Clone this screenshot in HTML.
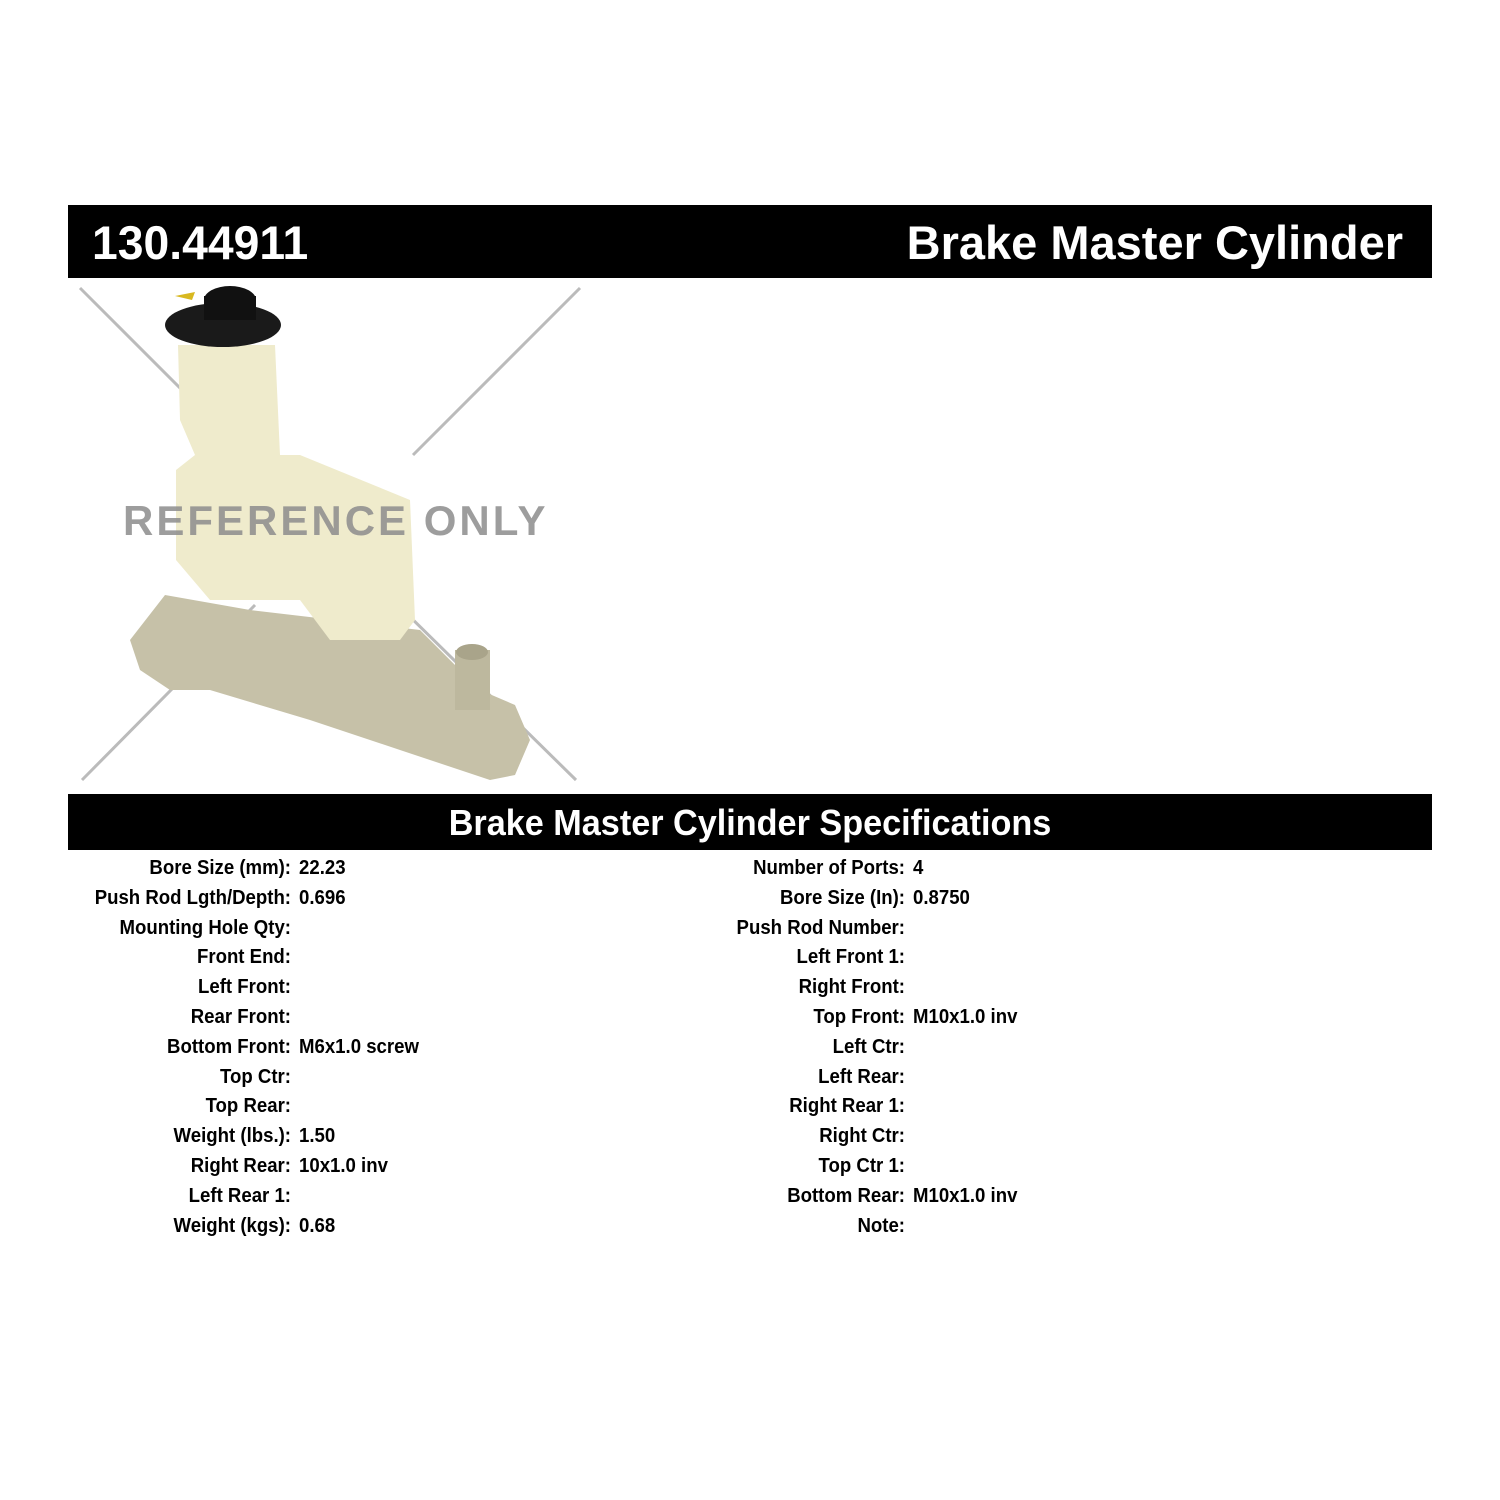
<!DOCTYPE html>
<html><head><meta charset="utf-8"><style>
body{margin:0;width:1500px;height:1500px;background:#fff;position:relative;overflow:hidden;font-family:"Liberation Sans",sans-serif;}
.bar{position:absolute;left:68px;width:1364px;background:#000;color:#fff;font-weight:bold;}
.row{position:absolute;font-size:20px;font-weight:bold;color:#000;white-space:nowrap;line-height:29.8px;}
.l{text-align:right;width:300px;transform:scaleX(0.93);transform-origin:right top;}
.v{transform:scaleX(0.93);transform-origin:left top;}
</style></head><body>
<div class="bar" style="top:205px;height:73px;">
<div style="position:absolute;left:24px;top:10px;font-size:47px;transform:scaleX(0.985);transform-origin:left top;">130.44911</div>
<div style="position:absolute;right:29px;top:10px;font-size:47px;">Brake Master Cylinder</div>
</div>
<svg style="position:absolute;left:0;top:0" width="1500" height="800">
<g stroke="#bbb" stroke-width="3">
<line x1="80" y1="288" x2="260" y2="468"/><line x1="580" y1="288" x2="413" y2="455"/>
<line x1="82" y1="780" x2="255" y2="605"/><line x1="576" y1="780" x2="398" y2="605"/>
</g>
<path d="M130 640 L165 595 L250 610 L420 630 L480 690 L515 705 L530 740 L515 775 L490 780 L400 750 L310 720 L210 690 L170 690 L140 670 Z" fill="#c6c1a8"/>
<rect x="455" y="650" width="35" height="60" fill="#bdb89e"/>
<ellipse cx="472" cy="652" rx="16" ry="8" fill="#a9a48a"/>
<path d="M178 345 L275 345 L280 455 L300 455 L410 500 L415 620 L400 640 L330 640 L300 600 L210 600 L176 560 L176 470 L195 455 L180 420 Z" fill="#efebcc"/>
<ellipse cx="223" cy="325" rx="58" ry="22" fill="#1a1a1a"/>
<ellipse cx="230" cy="300" rx="26" ry="14" fill="#111"/>
<rect x="204" y="296" width="52" height="24" fill="#111"/>
<path d="M175 296 L195 292 L192 300 Z" fill="#d8b820"/>
</svg>
<div style="position:absolute;left:123px;top:497px;font-weight:bold;font-size:42px;color:rgba(140,140,140,0.85);letter-spacing:3px;">REFERENCE ONLY</div>
<div class="bar" style="top:794px;height:56px;">
<div style="position:absolute;left:0;width:100%;text-align:center;top:8px;font-size:36px;transform:scaleX(0.95);">Brake Master Cylinder Specifications</div>
</div>
<div class="row l" style="left:-9px;top:854px;">Bore Size (mm):<br>Push Rod Lgth/Depth:<br>Mounting Hole Qty:<br>Front End:<br>Left Front:<br>Rear Front:<br>Bottom Front:<br>Top Ctr:<br>Top Rear:<br>Weight (lbs.):<br>Right Rear:<br>Left Rear 1:<br>Weight (kgs):</div>
<div class="row v" style="left:299px;top:854px;">22.23<br>0.696<br><br><br><br><br>M6x1.0 screw<br><br><br>1.50<br>10x1.0 inv<br><br>0.68</div>
<div class="row l" style="left:605px;top:854px;">Number of Ports:<br>Bore Size (In):<br>Push Rod Number:<br>Left Front 1:<br>Right Front:<br>Top Front:<br>Left Ctr:<br>Left Rear:<br>Right Rear 1:<br>Right Ctr:<br>Top Ctr 1:<br>Bottom Rear:<br>Note:</div>
<div class="row v" style="left:913px;top:854px;">4<br>0.8750<br><br><br><br>M10x1.0 inv<br><br><br><br><br><br>M10x1.0 inv<br></div>
</body></html>
